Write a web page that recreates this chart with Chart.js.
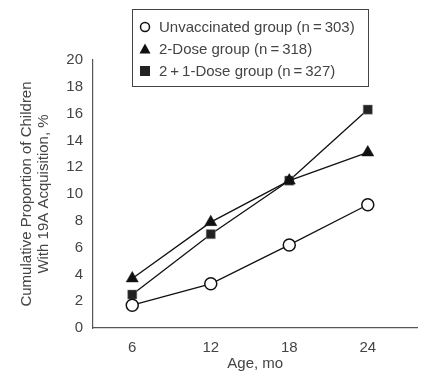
<!DOCTYPE html>
<html>
<head>
<meta charset="utf-8">
<script src="https://cdn.jsdelivr.net/npm/chart.js@4.4.1/dist/chart.umd.min.js"></script>
<style>
  body { margin: 0; background: #fff; }
  #wrap { width: 425px; height: 377px; }
</style>
</head>
<body>
<div id="wrap"><canvas id="chart" width="425" height="377"></canvas></div>
<script>
const ages = [6, 12, 18, 24];
const unvaccinated = [1.7, 3.3, 6.2, 9.2];
const twoDose = [3.7, 7.9, 11.0, 13.1];
const twoPlusOne = [2.5, 7.0, 11.0, 16.3];
const groupLabels = ['Unvaccinated group (n\u2009=\u2009303)', '2-Dose group (n\u2009=\u2009318)', '2\u2009+\u20091-Dose group (n\u2009=\u2009327)'];
const yTicks = [0, 2, 4, 6, 8, 10, 12, 14, 16, 18, 20];

const font = "'Liberation Sans', Arial, sans-serif";
const textColor = '#444';
const axisColor = '#555';

function pts(vals) {
    return ages.map((a, i) => ({x: a, y: vals[i]}));
}

// legend drawn as a framed box laid over the top of the plot
const boxLegend = {
    id: 'boxLegend',
    afterDraw(chart) {
        const ctx = chart.ctx;
        const x0 = 132, y0 = 9, w = 236, h = 77;
        ctx.save();
        ctx.fillStyle = '#fff';
        ctx.fillRect(x0, y0, w, h);
        ctx.strokeStyle = '#444';
        ctx.lineWidth = 1;
        ctx.strokeRect(x0 + 0.5, y0 + 0.5, w, h);
        ctx.font = '15px ' + font;
        ctx.textBaseline = 'middle';
        chart.data.datasets.forEach((ds, i) => {
            const cy = 27 + i * 22;
            const cx = 145;
            ctx.lineWidth = 1.5;
            ctx.strokeStyle = '#111';
            ctx.fillStyle = ds.pointBackgroundColor;
            if (ds.pointStyle === 'circle') {
                ctx.beginPath();
                ctx.arc(cx, cy, 4.5, 0, Math.PI * 2);
                ctx.fill();
                ctx.stroke();
            } else if (ds.pointStyle === 'triangle') {
                ctx.beginPath();
                ctx.moveTo(cx, cy - 5.5);
                ctx.lineTo(cx + 5.5, cy + 4.5);
                ctx.lineTo(cx - 5.5, cy + 4.5);
                ctx.closePath();
                ctx.fill();
            } else {
                ctx.fillRect(cx - 5, cy - 5, 10, 10);
            }
            ctx.fillStyle = textColor;
            ctx.fillText(ds.label, 159, cy + 1);
        });
        ctx.restore();
    }
};

new Chart(document.getElementById('chart'), {
    type: 'line',
    data: {
        datasets: [
            {label: groupLabels[0], data: pts(unvaccinated), pointStyle: 'circle', pointRadius: 6,
             pointBackgroundColor: '#fff', pointBorderColor: '#111', pointBorderWidth: 1.5},
            {label: groupLabels[1], data: pts(twoDose), pointStyle: 'triangle', pointRadius: 7,
             pointBackgroundColor: '#111', pointBorderColor: '#111', pointBorderWidth: 0.5},
            {label: groupLabels[2], data: pts(twoPlusOne), pointStyle: 'rect', pointRadius: 6.5,
             pointBackgroundColor: '#222', pointBorderColor: '#999', pointBorderWidth: 0.5}
        ].map(ds => Object.assign(ds, {borderColor: '#111', borderWidth: 1.3, tension: 0}))
    },
    options: {
        responsive: false,
        animation: false,
        layout: {padding: {left: 14, right: 7, top: 60, bottom: 0}},
        plugins: {legend: {display: false}, tooltip: {enabled: false}},
        scales: {
            x: {
                type: 'linear', min: 3, max: 27.8,
                afterBuildTicks: s => { s.ticks = ages.map(v => ({value: v})); },
                afterFit: s => { s.height = 49; },
                grid: {display: false, drawTicks: true, tickLength: 7, color: axisColor},
                border: {color: axisColor, width: 1.2},
                ticks: {color: textColor, font: {family: font, size: 15}, padding: 4, maxRotation: 0},
                title: {display: true, text: 'Age, mo', color: textColor, font: {family: font, size: 15}, padding: {top: 2}}
            },
            y: {
                min: 0, max: 20,
                afterBuildTicks: s => { s.ticks = yTicks.map(v => ({value: v})); },
                afterFit: s => { s.width = 79; },
                grid: {display: false, tickLength: 7, color: axisColor},
                border: {color: axisColor, width: 1.2},
                ticks: {color: textColor, font: {family: font, size: 15}, padding: 3},
                title: {display: true, text: ['Cumulative Proportion of Children', 'With 19A Acquisition, %'],
                        color: textColor, font: {family: font, size: 15, lineHeight: 1.15}, padding: {bottom: 4}}
            }
        }
    },
    plugins: [boxLegend]
});
</script>
</body>
</html>
